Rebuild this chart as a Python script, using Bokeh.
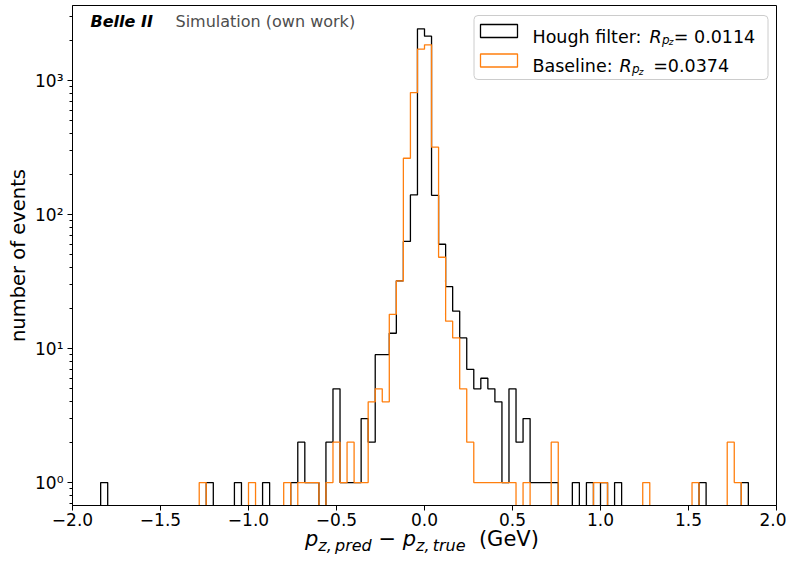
import numpy as np
from bokeh.plotting import figure
from bokeh.layouts import column
from bokeh.models import Range1d, FixedTicker, Label, BoxAnnotation, Div
from bokeh.embed import file_html
from bokeh.resources import INLINE

# ---------------- data ----------------
bin_low, bin_high, n_bins = -2.0, 2.0, 100

# counts per bin (bin width 0.04, from -2.0 to 2.0)
hough_counts = [
    0, 0, 0, 0, 1, 0, 0, 0, 0, 0,
    0, 0, 0, 0, 0, 0, 0, 0, 0, 1,
    0, 0, 0, 1, 0, 0, 0, 1, 0, 0,
    0, 1, 2, 1, 1, 0, 2, 5, 1, 1,
    1, 3, 2, 9, 9, 13, 32, 63, 140, 2430,
    2140, 139, 60, 29, 19, 12, 7, 5, 6, 5,
    4, 1, 5, 2, 3, 1, 1, 1, 1, 0,
    0, 1, 0, 1, 0, 1, 0, 1, 0, 0,
    0, 0, 0, 0, 0, 0, 0, 0, 0, 1,
    0, 0, 0, 0, 0, 1, 0, 0, 0, 0,
]
baseline_counts = [
    0, 0, 0, 0, 0, 0, 0, 0, 0, 0,
    0, 0, 0, 0, 0, 0, 0, 0, 1, 0,
    0, 0, 0, 0, 0, 1, 0, 0, 0, 0,
    1, 0, 1, 1, 1, 0, 1, 2, 1, 2,
    1, 1, 4, 5, 4, 18, 32, 263, 813, 1713,
    1845, 318, 48, 16, 12, 5, 2, 1, 1, 1,
    1, 1, 1, 0, 1, 0, 0, 0, 2, 0,
    0, 0, 0, 0, 1, 1, 0, 0, 0, 0,
    0, 1, 0, 0, 0, 0, 0, 0, 1, 0,
    0, 0, 0, 2, 1, 0, 0, 0, 0, 0,
]

x_ticks = [-2.0, -1.5, -1.0, -0.5, 0.0, 0.5, 1.0, 1.5, 2.0]
x_tick_labels = ["\u22122.0", "\u22121.5", "\u22121.0", "\u22120.5", "0.0", "0.5", "1.0", "1.5", "2.0"]
y_ticks = [1, 10, 100, 1000]
y_tick_labels = ["10\u2070", "10\u00b9", "10\u00b2", "10\u00b3"]

hough_label = ["Hough filter: ", "R", "p", "z", "= 0.0114"]
baseline_label = ["Baseline: ", "R", "p", "z", "=0.0374"]

BLACK = "black"
ORANGE = "#ff7f0e"
FONT = "DejaVu Sans"

# ---------------- figure ----------------
FRAME_LEFT, FRAME_TOP = 72, 5
FRAME_W, FRAME_H = 704, 500
p = figure(
    output_backend="svg", toolbar_location=None,
    y_axis_type="log",
    frame_width=FRAME_W, frame_height=FRAME_H,
    min_border_left=FRAME_LEFT, min_border_right=10,
    min_border_top=FRAME_TOP, min_border_bottom=27,
    x_range=Range1d(-2.0, 2.0), y_range=Range1d(0.674, 3628),
    background_fill_color="white", border_fill_color="white",
)
p.grid.visible = False
p.outline_line_color = "black"
p.outline_line_width = 1

edges = np.linspace(bin_low, bin_high, n_bins + 1)
floor = 0.05


def step_outline(counts):
    c = np.asarray(counts, dtype=float)
    c = np.where(c > 0, c, floor)
    xs = np.repeat(edges, 2)
    ys = np.concatenate([[floor], np.repeat(c, 2), [floor]])
    return xs, ys


hx, hy = step_outline(hough_counts)
bx, by = step_outline(baseline_counts)
p.line(hx, hy, line_color=BLACK, line_width=1.3)
p.line(bx, by, line_color=ORANGE, line_width=1.3)

# axes
for ax in (p.xaxis[0], p.yaxis[0]):
    ax.axis_line_color = "black"
    ax.major_tick_line_color = "black"
    ax.major_tick_in = 0
    ax.major_tick_out = 5
    ax.major_label_text_font = FONT
    ax.major_label_text_font_size = "17px"
    ax.major_label_text_color = "black"

p.xaxis.ticker = FixedTicker(ticks=x_ticks)
p.xaxis.major_label_overrides = dict(zip(x_ticks, x_tick_labels))
p.xaxis.minor_tick_line_color = None
p.xaxis.major_label_standoff = 2

minor = [m * 10.0 ** k for k in range(-1, 4) for m in range(2, 10)]
p.yaxis.ticker = FixedTicker(ticks=y_ticks, minor_ticks=minor)
p.yaxis.major_label_overrides = dict(zip(y_ticks, y_tick_labels))
p.yaxis.minor_tick_line_color = "black"
p.yaxis.minor_tick_in = 0
p.yaxis.minor_tick_out = 3
p.yaxis.major_label_standoff = 4
p.yaxis.axis_label = "number of events"
p.yaxis.axis_label_text_font = FONT
p.yaxis.axis_label_text_font_size = "19.5px"
p.yaxis.axis_label_text_font_style = "normal"
p.yaxis.axis_label_text_color = "black"
p.yaxis.axis_label_standoff = 2


# picture -> frame screen coordinates
def sx(px):
    return px - FRAME_LEFT


def sy(py):
    return FRAME_TOP + FRAME_H - py


def add_text(text, px, py, size, style="normal", color="black"):
    p.add_layout(Label(x=sx(px), y=sy(py), x_units="screen", y_units="screen",
                       text=text, text_font=FONT, text_font_size=size,
                       text_font_style=style, text_color=color,
                       text_baseline="alphabetic", text_align="left"))


# experiment tag
add_text("Belle II", 90, 21, "16px", "bold italic")
add_text("Simulation (own work)", 175, 21, "16px", "normal", "#4d4d4d")

# legend
p.add_layout(BoxAnnotation(left=sx(473.5), right=sx(767.5), top=sy(15), bottom=sy(79),
                           left_units="screen", right_units="screen",
                           top_units="screen", bottom_units="screen",
                           fill_color="white", fill_alpha=0.8,
                           line_color="#cccccc", line_alpha=1.0, line_width=1,
                           border_radius=4))
for (top, bot, col) in [(24, 37, BLACK), (53.5, 66.5, ORANGE)]:
    p.add_layout(BoxAnnotation(left=sx(480), right=sx(517), top=sy(top), bottom=sy(bot),
                               left_units="screen", right_units="screen",
                               top_units="screen", bottom_units="screen",
                               fill_alpha=0, line_color=col, line_alpha=1.0,
                               line_width=1.3))

for parts, base, xs_ in [(hough_label, 36, (532, 649, 661.5, 668.3, 673.3)),
                         (baseline_label, 65.7, (532, 619, 631.5, 638.3, 652.7))]:
    add_text(parts[0], xs_[0], base, "17.5px")
    add_text(parts[1], xs_[1], base, "17.5px", "italic")
    add_text(parts[2], xs_[2], base + 3, "12px", "italic")
    add_text(parts[3], xs_[3], base + 5.5, "9px", "italic")
    add_text(parts[4], xs_[4], base, "17.5px")

# x axis label (math style) as real text below the plot
sub = "font-size:16px;line-height:0;vertical-align:-5px;font-style:italic"
xlabel_html = (
    "<span><i>p</i><span style='" + sub + "'>z,&#8201;pred</span>"
    "&#160;&#8722;&#160;<i>p</i><span style='" + sub + "'>z,&#8201;true</span>"
    "&#160;&#160;(GeV)</span>"
)
xlabel = Div(text=xlabel_html, width=480, height=24, margin=(0, 0, 0, 305),
             styles={"font-family": "'DejaVu Sans'", "font-size": "21px",
                     "line-height": "14px", "color": "black", "white-space": "nowrap"})

layout = column(p, xlabel, spacing=0)
open("out.html", "w").write(file_html(layout, INLINE))
